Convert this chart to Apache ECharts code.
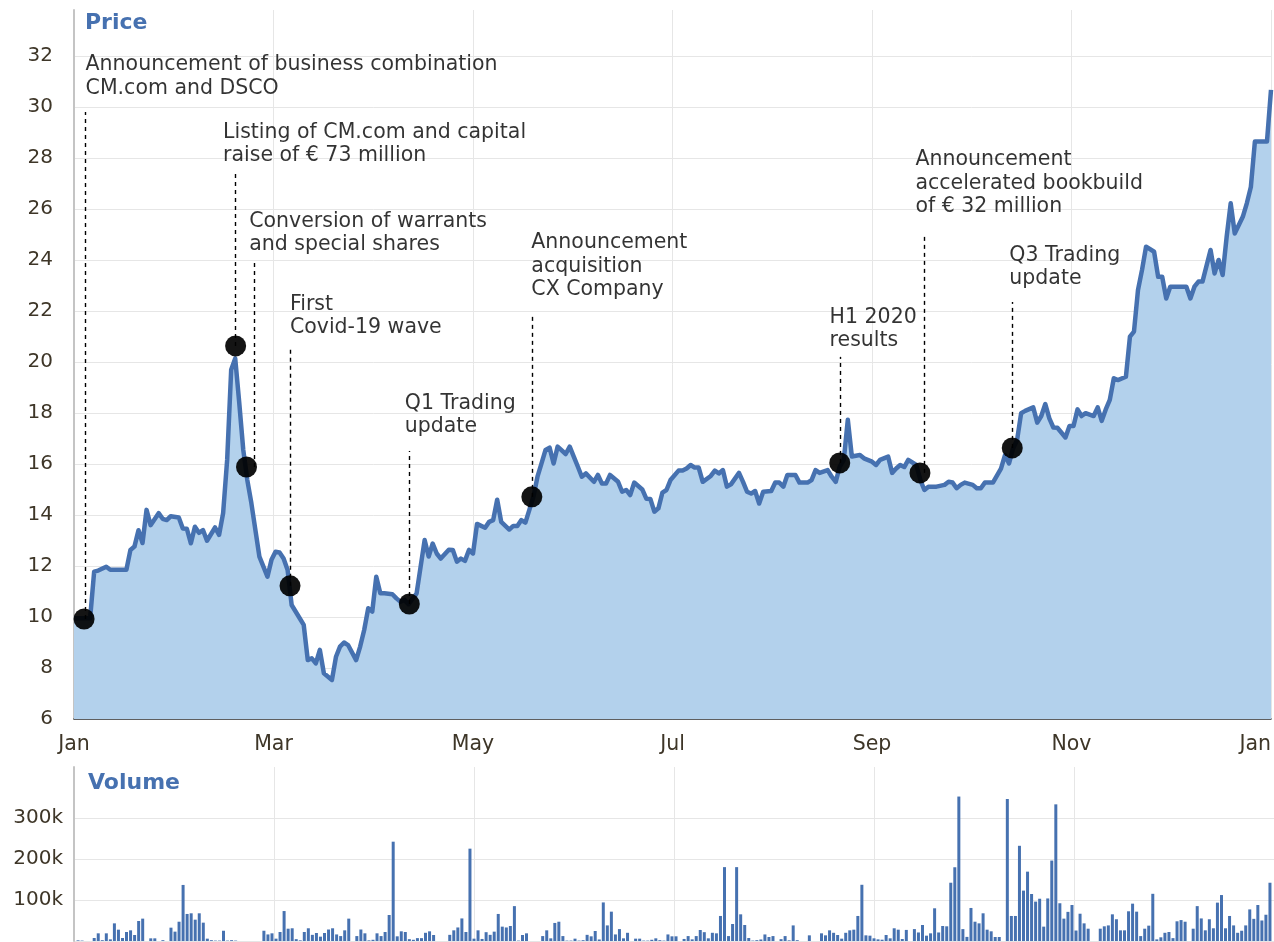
<!DOCTYPE html>
<html>
<head>
<meta charset="utf-8">
<title>Price and volume</title>
<script src="https://cdn.jsdelivr.net/npm/echarts/dist/echarts.min.js"></script>
<style>
  html, body { margin: 0; padding: 0; background: #fff; }
  #main { width: 1274px; height: 942px; }
</style>
</head>
<body>
<div id="main"></div>
<script>
// x axis unit = one trading session (one volume bar)
const tickLabels = ['Jan', 'Mar', 'May', 'Jul', 'Sep', 'Nov', 'Jan'];

// closing price at its vertices
const priceSession = [
  0, 2, 4, 5, 6, 8, 9, 13, 14, 15, 16, 17, 18, 19, 21, 22, 23, 24, 26, 27,
  28, 29, 30, 31, 32, 33, 35, 36, 37, 38, 39, 40, 41, 42, 43, 44, 46, 48, 49, 50,
  51, 52, 53, 54, 56, 57, 58, 59, 60, 61, 62, 64, 65, 66, 67, 68, 70, 71, 72, 73,
  74, 75, 76, 77, 79, 80, 81, 82, 83, 84, 85, 87, 88, 89, 90, 91, 93, 94, 95, 96,
  97, 98, 99, 100, 102, 103, 104, 105, 106, 108, 109, 110, 111, 112, 114, 115, 116, 117, 118, 119,
  120, 122, 123, 124, 125, 126, 127, 129, 130, 131, 132, 133, 135, 136, 137, 138, 139, 141, 142, 143,
  144, 145, 146, 147, 148, 150, 151, 152, 153, 154, 155, 156, 158, 159, 160, 161, 162, 163, 165, 166,
  167, 168, 169, 170, 171, 173, 174, 175, 176, 177, 179, 180, 181, 182, 183, 184, 185, 187, 188, 189,
  190, 191, 192, 193, 195, 196, 198, 199, 200, 202, 203, 204, 205, 206, 207, 209, 210, 211, 212, 214,
  216, 217, 218, 219, 220, 221, 223, 224, 225, 226, 227, 228, 230, 231, 232, 233, 234, 235, 236, 238,
  239, 240, 241, 242, 243, 244, 246, 247, 248, 249, 250, 251, 253, 254, 255, 256, 257, 258, 259, 261,
  262, 263, 264, 265, 266, 268, 269, 270, 271, 272, 274, 276, 277, 278, 279, 280, 282, 283, 284, 285,
  286, 287, 288, 290, 291, 292, 293, 294, 296, 297
];
const priceClose = [
  9.95, 9.95, 9.95, 11.78, 11.82, 11.97, 11.85, 11.85, 12.63, 12.76, 13.4, 12.9, 14.2, 13.6, 14.07, 13.85, 13.8, 13.95, 13.9, 13.47,
  13.46, 12.89, 13.54, 13.3, 13.41, 12.99, 13.51, 13.22, 14.07, 16.16, 19.69, 20.14, 18.4, 16.55, 15.37, 14.47, 12.37, 11.58, 12.24, 12.56,
  12.53, 12.29, 11.84, 10.47, 9.95, 9.69, 8.31, 8.38, 8.18, 8.71, 7.79, 7.53, 8.44, 8.84, 9.0, 8.9, 8.31, 8.84, 9.49, 10.34,
  10.21, 11.58, 10.93, 10.93, 10.89, 10.73, 10.6, 10.67, 10.5, 10.72, 10.92, 13.02, 12.37, 12.88, 12.49, 12.29, 12.64, 12.63, 12.17, 12.29,
  12.2, 12.63, 12.49, 13.65, 13.5, 13.73, 13.8, 14.6, 13.73, 13.43, 13.57, 13.57, 13.8, 13.7, 14.72, 15.5, 16.02, 16.55, 16.64, 16.02,
  16.68, 16.39, 16.68, 16.29, 15.9, 15.5, 15.63, 15.3, 15.57, 15.23, 15.23, 15.57, 15.3, 14.91, 14.98, 14.78, 15.27, 15.0, 14.64, 14.63,
  14.13, 14.26, 14.88, 14.98, 15.37, 15.74, 15.74, 15.82, 15.96, 15.86, 15.86, 15.3, 15.53, 15.74, 15.63, 15.76, 15.11, 15.2, 15.65, 15.3,
  14.91, 14.84, 14.94, 14.45, 14.91, 14.94, 15.27, 15.27, 15.11, 15.57, 15.57, 15.27, 15.27, 15.27, 15.37, 15.76, 15.65, 15.76, 15.5, 15.3,
  15.9, 16.16, 17.73, 16.29, 16.35, 16.22, 16.09, 15.96, 16.16, 16.29, 15.65, 15.82, 15.96, 15.88, 16.16, 15.96, 15.37, 14.98, 15.11, 15.11,
  15.18, 15.3, 15.27, 15.05, 15.18, 15.27, 15.18, 15.05, 15.05, 15.27, 15.27, 15.27, 15.82, 16.35, 16.02, 16.61, 16.94, 17.99, 18.08, 18.22,
  17.62, 17.88, 18.35, 17.79, 17.43, 17.42, 17.04, 17.49, 17.49, 18.14, 17.88, 17.99, 17.88, 18.22, 17.69, 18.14, 18.51, 19.36, 19.29, 19.42,
  20.99, 21.19, 22.82, 23.61, 24.52, 24.32, 23.34, 23.34, 22.49, 22.95, 22.95, 22.95, 22.49, 22.95, 23.15, 23.15, 24.39, 23.47, 24.0, 23.41,
  24.91, 26.22, 25.04, 25.69, 26.22, 26.86, 28.64, 28.64, 28.64, 30.67
];

// volume per session, in thousands of shares (session 0 .. 296)
const volumeK = [
  0, 1.6, 1, 0, 0, 7.3, 18.7, 2, 18.7, 4, 43, 27.6, 7.3, 22, 26, 14.6, 48.8, 54.5, 0, 6.5,
  6.5, 0, 2, 0, 32.5, 22.8, 47, 136.6, 65.9, 67.5, 52, 67.5, 44.7, 5.7, 2, 1, 1, 25, 1, 2,
  1, 0, 0, 0, 0, 0, 0, 25, 16, 18.7, 5.7, 22, 73, 30, 31, 4.5, 1.6, 22, 31, 15,
  19.5, 10.6, 19.5, 28, 31, 16, 12, 26, 54.5, 0, 12, 28, 18.7, 1.6, 3, 18.7, 12, 22, 63.4, 242,
  11.4, 23.6, 22, 4.5, 3, 7, 7, 20, 23.6, 14.6, 0, 0, 0, 15, 26, 33, 55, 22, 225, 5.7,
  26, 5, 21.5, 15, 22.8, 65.9, 35, 33, 36.6, 85, 1, 14.6, 18.7, 0, 0, 0, 12, 26, 6.5, 44,
  47, 12, 1, 1, 5.7, 1, 2, 15, 11.4, 24.4, 3.7, 94, 38, 71.5, 16, 29, 6.5, 20, 0, 5.7,
  5.7, 1, 1, 3, 6.5, 2, 1, 16, 11.4, 11.4, 0, 5, 12, 4, 12, 26.8, 21.5, 6.5, 20, 18.7,
  61, 180, 12, 41.5, 180, 65, 39, 7.3, 1, 2, 3.7, 16, 9.7, 12, 0, 4.5, 12, 1.6, 38, 2,
  0, 0, 13.8, 0, 0, 18.7, 13.8, 26, 20, 14.6, 5.7, 20, 26, 27.6, 61, 137, 13.8, 13, 6.5, 4,
  3.2, 14.6, 6.5, 31, 27.6, 4.9, 27, 0, 29, 20.8, 39, 13, 18.7, 79.7, 20.8, 36.6, 35.8, 142, 179.7, 352,
  29, 10, 80.5, 47, 43, 67.5, 27.6, 23.6, 9.8, 9.8, 0, 346, 61, 61, 232, 122.8, 169, 114.6, 96, 103,
  35, 103.7, 196, 333, 92, 54.5, 71, 87.8, 25.5, 66.5, 43, 30, 0, 0, 30, 35.8, 38, 65, 53, 26,
  26, 72.4, 91, 71.5, 12, 30, 37.4, 115, 4, 9, 20, 22, 7, 48, 51, 47, 0, 30, 85, 55,
  26, 53, 31, 93.5, 112, 31, 61, 38, 20, 25, 38, 77, 54, 87.8, 50, 64, 142
];

// events marked on the price line
const eventSession = [2.5, 40.1, 42.8, 53.6, 83.2, 113.6, 190.0, 209.9, 232.8];
const eventPrice = [9.92, 20.63, 15.88, 11.22, 10.51, 14.71, 16.04, 15.65, 16.63];
const eventText = [
  'Announcement of business combination\nCM.com and DSCO',
  'Listing of CM.com and capital\nraise of € 73 million',
  'Conversion of warrants\nand special shares',
  'First\nCovid-19 wave',
  'Q1 Trading\nupdate',
  'Announcement\nacquisition\nCX Company',
  'H1 2020\nresults',
  'Announcement\naccelerated bookbuild\nof € 32 million',
  'Q3 Trading\nupdate'
];

// layout of the callouts: dashed stem x / top, and text bottom-left corner
const stemX = [2.9, 40.1, 44.6, 53.6, 83.2, 113.6, 190.1, 210.9, 232.8];
const stemTop = [29.8, 27.45, 23.88, 20.59, 16.51, 21.84, 20.2, 25.02, 22.35];
const noteAnchor = [
  [3.0, 30.24], [37.1, 27.6], [43.6, 24.11], [53.7, 20.85], [82.2, 16.97],
  [113.6, 22.34], [187.6, 20.34], [208.9, 25.6], [232.2, 22.77]
];

const FONT = '"DejaVu Sans", sans-serif';
const BLUE = '#4671b0';
const GRID = '#e6e6e6';
const TICK = '#3e3628';

let chart = echarts.init(document.getElementById('main'));

const option = {
  animation: false,
  textStyle: { fontFamily: FONT },
  title: [
    {
      text: 'Price', left: 85, top: 12, padding: 0,
      textStyle: { color: BLUE, fontSize: 22, fontWeight: 'bold', fontFamily: FONT }
    },
    {
      text: 'Volume', left: 88, top: 772, padding: 0,
      textStyle: { color: BLUE, fontSize: 22, fontWeight: 'bold', fontFamily: FONT }
    }
  ],
  grid: [
    { left: 74, right: 0, top: 10, height: 709 },
    { left: 74, right: 0, top: 767, height: 174 }
  ],
  xAxis: [
    {
      gridIndex: 0, type: 'value', min: 0, max: 297, interval: 49.5,
      axisLine: { onZero: false, lineStyle: { color: '#333', width: 1.5 } },
      axisTick: { show: false },
      axisLabel: {
        margin: 15, fontSize: 20.5, color: TICK, alignMaxLabel: 'right',
        formatter: v => tickLabels[Math.round(v / 49.5)]
      },
      splitLine: { show: true, lineStyle: { color: GRID } }
    },
    {
      gridIndex: 1, type: 'value', min: 0, max: 297, interval: 49.5,
      axisLine: { show: false },
      axisTick: { show: false },
      axisLabel: { show: false },
      splitLine: { show: true, lineStyle: { color: GRID } }
    }
  ],
  yAxis: [
    {
      gridIndex: 0, type: 'value', min: 6, max: 33.8, interval: 2,
      axisLine: { show: true, onZero: false, lineStyle: { color: '#c4c4c4', width: 2 } },
      axisTick: { show: false },
      axisLabel: { margin: 21, fontSize: 20, color: TICK, showMaxLabel: false },
      splitLine: { showMaxLine: false, lineStyle: { color: GRID } }
    },
    {
      gridIndex: 1, type: 'value', min: 0, max: 424, interval: 100,
      axisLine: { show: true, onZero: false, lineStyle: { color: '#c4c4c4', width: 2 } },
      axisTick: { show: false },
      axisLabel: {
        margin: 11, fontSize: 20, color: TICK,
        formatter: v => (v > 0 && v <= 300 ? v + 'k' : '')
      },
      splitLine: {
        showMaxLine: false,
        lineStyle: { color: [GRID, GRID, GRID, GRID, 'rgba(0,0,0,0)'] }
      }
    }
  ],
  series: [
    {
      name: 'Price', type: 'line', xAxisIndex: 0, yAxisIndex: 0,
      data: priceSession.map((s, i) => [s, priceClose[i]]),
      showSymbol: false, silent: true, z: 2,
      lineStyle: { color: BLUE, width: 4.5, join: 'round' },
      areaStyle: { color: '#b3d1ec', opacity: 1 },
      markLine: {
        silent: true, symbol: ['none', 'none'], animation: false,
        label: { show: false },
        lineStyle: { color: '#000', width: 1.4, type: [4, 4] },
        emphasis: { disabled: true },
        data: stemX.map((x, i) => [
          { coord: [x, eventPrice[i]] },
          { coord: [x, stemTop[i]] }
        ])
      }
    },
    {
      name: 'Events', type: 'scatter', xAxisIndex: 0, yAxisIndex: 0,
      data: eventSession.map((s, i) => [s, eventPrice[i]]),
      symbolSize: 21, silent: true, z: 4,
      itemStyle: { color: '#000', opacity: 0.92 }
    },
    {
      name: 'Notes', type: 'scatter', xAxisIndex: 0, yAxisIndex: 0,
      data: noteAnchor.map((p, i) => ({ value: p, label: { formatter: eventText[i] } })),
      symbolSize: 1, silent: true, z: 5,
      itemStyle: { color: 'rgba(0,0,0,0)' },
      label: {
        show: true, position: [0, 0], align: 'left', verticalAlign: 'bottom',
        fontSize: 20.5, lineHeight: 23.5, color: '#000', fontFamily: FONT
      }
    },
    {
      name: 'Volume', type: 'bar', xAxisIndex: 1, yAxisIndex: 1,
      data: volumeK.map((v, i) => [i, v]),
      barWidth: 3, silent: true,
      itemStyle: { color: BLUE }
    }
  ]
};

chart.setOption(option);
</script>
</body>
</html>
